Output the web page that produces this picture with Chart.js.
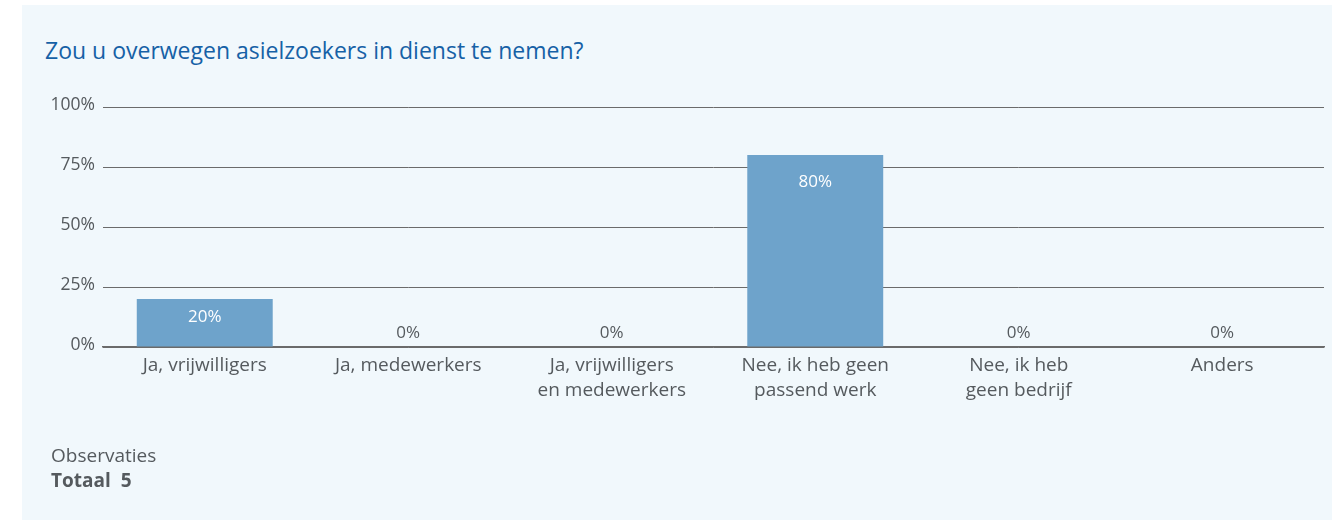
<!DOCTYPE html>
<html>
<head>
<meta charset="utf-8">
<script src="https://cdn.jsdelivr.net/npm/chart.js@4"></script>
<style>
    html, body { margin: 0; padding: 0; background: #ffffff; }
    body { width: 1332px; height: 520px; position: relative; overflow: hidden; font-family: "Open Sans", sans-serif; }
    #panel { position: absolute; left: 22px; top: 5px; width: 1310px; height: 515px; background: #f1f8fc; }
    #title { position: absolute; left: 45px; top: 34px; font-size: 23px; color: #1661a6; white-space: nowrap; }
    #chart { position: absolute; left: 0; top: 0; }
    #notes { position: absolute; left: 51px; top: 443px; font-size: 19px; color: #555a5e; line-height: 25px; }
    #notes b { font-weight: 700; }
</style>
</head>
<body>
<div id="panel"></div>
<div id="title">Zou u overwegen asielzoekers in dienst te nemen?</div>
<canvas id="chart" width="1332" height="520"></canvas>
<div id="notes">Observaties<br><b>Totaal&nbsp;&nbsp;5</b></div>
<script>
const categories = [
    ['Ja, vrijwilligers'],
    ['Ja, medewerkers'],
    ['Ja, vrijwilligers', 'en medewerkers'],
    ['Nee, ik heb geen', 'passend werk'],
    ['Nee, ik heb', 'geen bedrijf'],
    ['Anders']
];
const percentages = [20, 0, 0, 80, 0, 0];
const yTicks = [0, 25, 50, 75, 100];

const textColor = '#555a5e';
const barColor = '#6ea3cb';

const valueLabels = {
    id: 'valueLabels',
    afterDatasetsDraw(chart) {
        const ctx = chart.ctx;
        const meta = chart.getDatasetMeta(0);
        ctx.save();
        ctx.font = '17px "Open Sans"';
        ctx.textAlign = 'center';
        ctx.textBaseline = 'middle';
        meta.data.forEach((bar, i) => {
            const v = percentages[i];
            if (v > 0) {
                // label sits a bit lower in taller bars
                const h = bar.base - bar.y;
                ctx.fillStyle = '#ffffff';
                ctx.fillText(v + '%', bar.x, bar.y + 15.7 + 0.059 * h);
            } else {
                ctx.fillStyle = textColor;
                ctx.fillText(v + '%', bar.x, bar.base - 14);
            }
        });
        ctx.restore();
    }
};

new Chart(document.getElementById('chart').getContext('2d'), {
    type: 'bar',
    data: {
        labels: categories,
        datasets: [{
            data: percentages,
            backgroundColor: barColor,
            borderWidth: 0,
            categoryPercentage: 1,
            barPercentage: 0.668
        }]
    },
    options: {
        responsive: false,
        animation: false,
        maintainAspectRatio: false,
        layout: { padding: { left: 0, top: 107, right: 8, bottom: 0 } },
        plugins: {
            legend: { display: false },
            tooltip: { enabled: false }
        },
        scales: {
            x: {
                grid: { display: false, drawTicks: false },
                border: { display: true, color: '#6b6b6b', width: 1.5 },
                ticks: {
                    color: textColor,
                    font: { family: 'Open Sans', size: 19, lineHeight: 1.27 },
                    padding: 7,
                    maxRotation: 0,
                    autoSkip: false
                },
                afterFit(scale) { scale.height = 173; }
            },
            y: {
                min: 0,
                max: 100,
                afterBuildTicks(scale) { scale.ticks = yTicks.map(v => ({ value: v })); },
                grid: { color: '#6b6b6b', lineWidth: 1, drawTicks: false },
                border: { display: false },
                ticks: {
                    color: textColor,
                    font: { family: 'Open Sans', size: 17.5 },
                    padding: 8,
                    labelOffset: -2,
                    callback: v => v + '%'
                },
                afterFit(scale) { scale.width = 103; }
            }
        }
    },
    plugins: [valueLabels]
});
</script>
</body>
</html>
